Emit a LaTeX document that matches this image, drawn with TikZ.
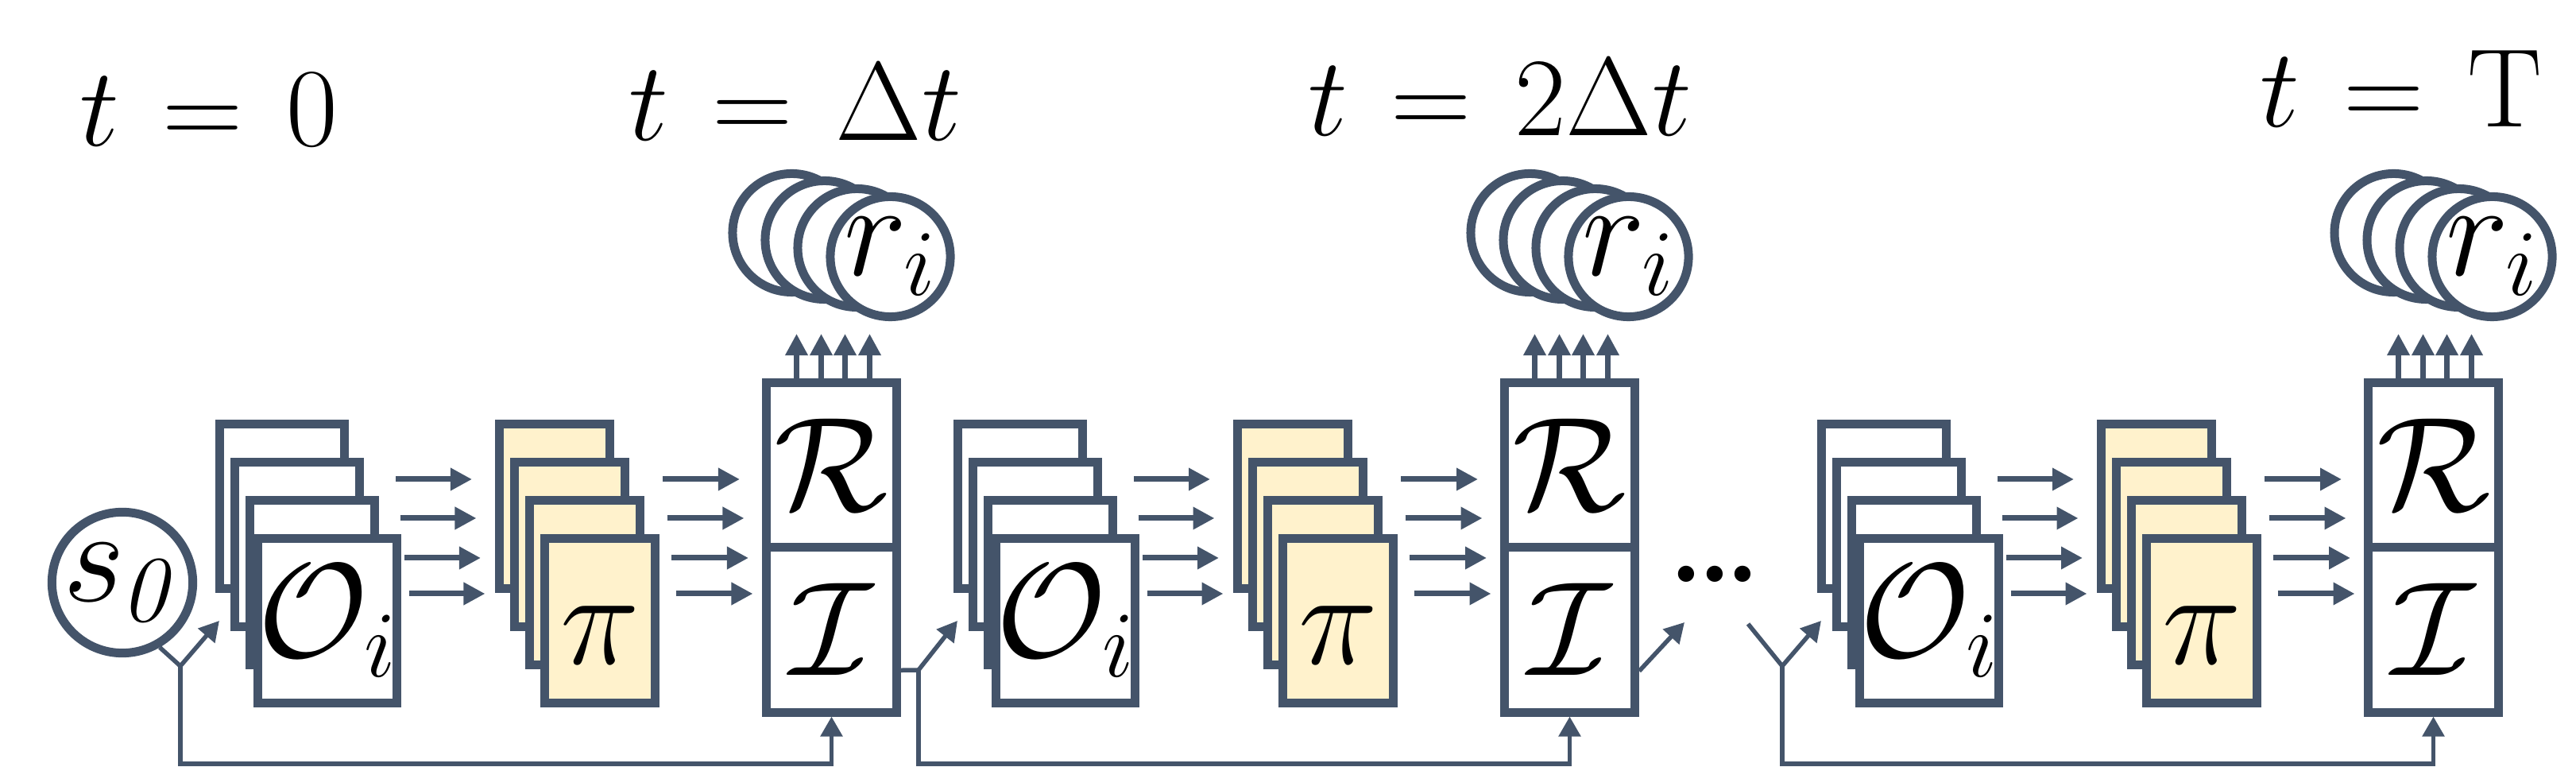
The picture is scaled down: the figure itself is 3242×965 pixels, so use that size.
\RequirePackage{fix-cm}
\documentclass[tikz,border=0pt]{standalone}
\usetikzlibrary{arrows.meta}

\definecolor{slate}{HTML}{44546A}
\definecolor{cream}{HTML}{FFF2CC}

\newcommand{\widerel}{\thickmuskip 7mu\relax}

\tikzset{
  big/.style={font=\fontsize{48}{48}\selectfont},
  card/.style={draw=slate, line width=0.11cm, fill=white, inner sep=0pt,
    minimum width=1.57cm, minimum height=2.07cm, big},
  polcard/.style={card, fill=cream, minimum width=1.38cm},
  half/.style={draw=slate, line width=0.11cm, fill=white, inner sep=0pt,
    minimum width=1.64cm, minimum height=2.075cm, big},
  bubble/.style={circle, draw=slate, line width=0.11cm, fill=white, inner sep=0pt,
    minimum size=1.49cm, big},
  flow/.style={draw=slate, line width=0.07cm, -{Triangle[length=0.27cm,width=0.27cm]}},
  feed/.style={draw=slate, line width=0.055cm},
  feedarrow/.style={feed, -{Triangle[length=0.25cm,width=0.27cm]}},
  stamp/.style={anchor=base, font=\fontsize{40}{40}\selectfont\widerel}
}

\begin{document}
\begin{tikzpicture}[x=0.01cm, y=-0.01cm]
\useasboundingbox (0,0) rectangle (3242,965);

% Time stamps
\node[stamp] (t0) at (263,184) {$t = 0$};
\node[stamp] (t1) at (1001,177) {$t = \Delta t$};
\node[stamp] (t2) at (1888,171) {$t = 2\Delta t$};
\node[stamp] (tT) at (3022,160) {$t = \mathrm{T}$};

% Initial state
\node[bubble] (s0) at (154,733) {$s_{\mkern-1mu\mathit{0}}$};

% One block per time step
\foreach \g/\gx/\fy in {1/0/838, 2/929/843, 3/2016/838}{
  % Observation cards
  \foreach \k in {1,2,3}
    \node[card] (obs\g-\k) at ({355+19*(\k-1)+\gx}, {637+48*(\k-1)}) {};
  \node[card] (obs\g-4) at (412+\gx, 781) {$\mathcal{O}_i$};

  % Policy cards
  \foreach \k in {1,2,3}
    \node[polcard] (pol\g-\k) at ({698+19*(\k-1)+\gx}, {637+48*(\k-1)}) {};
  \node[polcard] (pol\g-4) at (755+\gx, 781) {};
  \node[big] (pi\g) at ([yshift=-0.18cm]pol\g-4.center) {$\pi$};

  % Reward and transition box
  \node[half] (rew\g) at (1046.5+\gx, 585.25) {$\mathcal{R}$};
  \node[half] (trn\g) at (1046.5+\gx, 792.25) {$\mathcal{I}$};

  % Rewards
  \foreach \k/\dx/\y in {1/-50/293, 2/-9/302, 3/32/312}
    \node[bubble] (rc\g-\k) at ({1046.5+(\dx)+\gx}, \y) {};
  \node[bubble] (rc\g-4) at (1120.5+\gx, 323) {$r_i$};

  % Arrows between cards
  \foreach \k/\y in {1/603, 2/652, 3/702, 4/747}{
    \coordinate (a\g-\k) at ({498+5.5*(\k-1)+\gx}, \y);
    \coordinate (b\g-\k) at ({594+5.5*(\k-1)+\gx}, \y);
    \coordinate (c\g-\k) at ({834+5.5*(\k-1)+\gx}, \y);
    \coordinate (d\g-\k) at ({931+5.5*(\k-1)+\gx}, \y);
    \draw[flow] (a\g-\k) -- (b\g-\k);
    \draw[flow] (c\g-\k) -- (d\g-\k);
  }

  % Arrows up to the rewards
  \foreach \k/\dx in {1/-44, 2/-13, 3/17, 4/48}{
    \coordinate (u\g-\k) at ({1046.5+(\dx)+\gx}, 420);
    \draw[flow, line width=0.065cm] (u\g-\k |- rew\g.north) -- (u\g-\k);
  }

  % State fork and feedback line
  \coordinate (fork\g) at (227+\gx, \fy);
  \coordinate (in\g) at (276+\gx, 781);
  \coordinate (base\g) at (227+\gx, 961);
  \draw[feedarrow] (fork\g) -- (in\g);
  \draw[feedarrow] (fork\g) -- (base\g) -| (trn\g.south);
}

% Links between blocks
\draw[feed] (s0.-60) -- (fork1);
\draw[feed] ([yshift=-0.51cm]trn1.east) -- (fork2);
\coordinate (gap) at (2120,783);
\draw[feedarrow] ([yshift=-0.52cm]trn2.east) -- (gap);
\node[font=\fontsize{40}{40}\selectfont\bfseries] (dots) at (2158,722) {.\kern-2.5pt.\kern-2.5pt.};
\coordinate (arm3) at (2200,785);
\draw[feed] (arm3) -- (fork3);

\end{tikzpicture}
\end{document}
